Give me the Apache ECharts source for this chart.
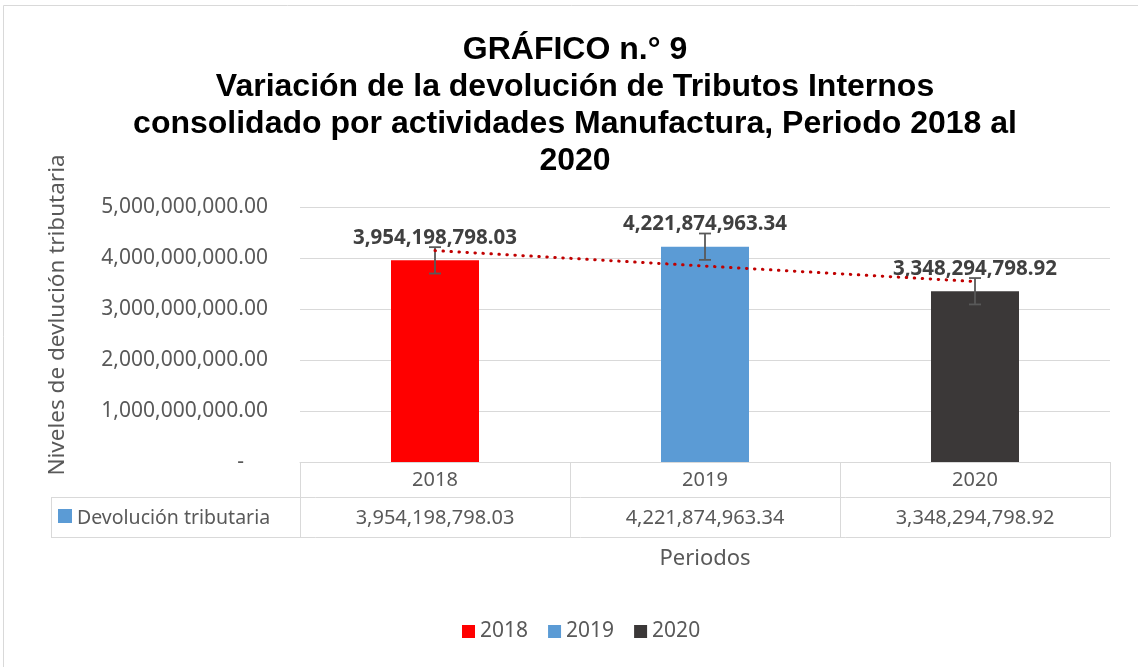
<!DOCTYPE html>
<html>
<head>
<meta charset="utf-8">
<script src="https://cdn.jsdelivr.net/npm/echarts@6/dist/echarts.min.js"></script>
<style>
html,body{margin:0;padding:0;background:#fff}
#chart{width:1138px;height:667px}
</style>
</head>
<body>
<div id="chart"></div>
<script>
// datos del gráfico
var categorias = ['2018', '2019', '2020'];
var devolucion = [3954198798.03, 4221874963.34, 3348294798.92];
var errorEstandar = [258500000, 258500000, 258500000];
var tendencia = [4145000000, 3842000000, 3539000000];
var colores = ['#FF0000', '#5B9BD5', '#3B3838'];
var nombreSerie = 'Devolución tributaria';

var fuente = '"Noto Sans", sans-serif';
var gris = '#595959';
var linea = '#d9d9d9';

function fmt(v) {
	return Number(v).toLocaleString('en-US', {minimumFractionDigits: 2, maximumFractionDigits: 2});
}

var myChart = echarts.init(document.getElementById('chart'));

var series = [];
categorias.forEach(function(c, i) {
	series.push({
		name: c,
		type: 'bar',
		barWidth: 88,
		barGap: '-100%',
		data: categorias.map(function(cc, j) { return j === i ? devolucion[j] : '-'; }),
		itemStyle: {color: colores[i]},
		label: {
			show: true,
			position: 'top',
			distance: 12,
			formatter: function(p) { return fmt(p.value); },
			fontFamily: fuente,
			fontSize: 20.5,
			fontWeight: 'bold',
			color: '#404040'
		},
		z: 2
	});
});

// barras de error
series.push({
	type: 'custom',
	data: categorias.map(function(c, i) { return [i, devolucion[i], errorEstandar[i]]; }),
	encode: {x: 0, y: 1},
	z: 5,
	renderItem: function(params, api) {
		var hi = api.coord([api.value(0), api.value(1) + api.value(2)]);
		var lo = api.coord([api.value(0), api.value(1) - api.value(2)]);
		var w = 6;
		var st = {stroke: gris, lineWidth: 1.8};
		return {
			type: 'group',
			children: [
				{type: 'line', shape: {x1: hi[0], y1: hi[1], x2: lo[0], y2: lo[1]}, style: st},
				{type: 'line', shape: {x1: hi[0] - w, y1: hi[1], x2: hi[0] + w, y2: hi[1]}, style: st},
				{type: 'line', shape: {x1: lo[0] - w, y1: lo[1], x2: lo[0] + w, y2: lo[1]}, style: st}
			]
		};
	}
});

// línea de tendencia
series.push({
	type: 'line',
	data: tendencia,
	symbol: 'none',
	z: 6,
	lineStyle: {color: '#C00000', width: 3, type: [0.5, 7.5], cap: 'round'}
});

var option = {
	animation: false,
	textStyle: {fontFamily: fuente},
	title: {
		text: 'GRÁFICO n.° 9\nVariación de la devolución de Tributos Internos\nconsolidado por actividades Manufactura, Periodo 2018 al\n2020',
		left: 570,
		textAlign: 'center',
		top: 27,
		textStyle: {
			fontFamily: '"Liberation Sans", Arial, sans-serif',
			fontSize: 32,
			fontWeight: 'bold',
			color: '#000',
			lineHeight: 37
		}
	},
	legend: {
		data: categorias,
		top: 616,
		left: 457,
		icon: 'rect',
		itemWidth: 13,
		itemHeight: 13,
		itemGap: 20,
		textStyle: {fontFamily: fuente, fontSize: 21, color: gris}
	},
	grid: {left: 300, right: 28, top: 207, bottom: 205},
	xAxis: {
		type: 'category',
		data: categorias,
		name: 'Periodos',
		nameLocation: 'middle',
		nameGap: 86,
		nameTextStyle: {fontFamily: fuente, fontSize: 22, color: gris},
		axisLine: {lineStyle: {color: linea, width: 1}},
		axisTick: {show: false},
		axisLabel: {show: false}
	},
	yAxis: {
		type: 'value',
		min: 0,
		max: 5000000000,
		interval: 1000000000,
		axisLine: {show: false},
		axisTick: {show: false},
		splitLine: {lineStyle: {color: linea, width: 1}},
		axisLabel: {
			margin: 32,
			fontFamily: fuente,
			fontSize: 21,
			color: gris,
			formatter: function(v) { return v === 0 ? '{d|-}' : fmt(v); },
			rich: {d: {fontFamily: fuente, fontSize: 21, color: gris, padding: [0, 24, 0, 0]}}
		}
	},
	series: series
};
myChart.setOption(option);

// tabla de datos debajo del eje
var xLeft = 300, xRight = 1110, yTop = 462, yMid = 497, yBot = 537, xLeyenda = 51;
var cellW = (xRight - xLeft) / categorias.length;
var g = [];
var lst = {stroke: linea, lineWidth: 1};
g.push({type: 'rect', shape: {x: 3.5, y: 5.5, width: 1140, height: 670}, style: {stroke: linea, fill: null, lineWidth: 1}, silent: true});
g.push({type: 'line', shape: {x1: xLeyenda, y1: yMid + 0.5, x2: xRight, y2: yMid + 0.5}, style: lst});
g.push({type: 'line', shape: {x1: xLeyenda, y1: yBot + 0.5, x2: xRight, y2: yBot + 0.5}, style: lst});
g.push({type: 'line', shape: {x1: xLeyenda + 0.5, y1: yMid, x2: xLeyenda + 0.5, y2: yBot}, style: lst});
for (var k = 0; k <= categorias.length; k++) {
	var xx = Math.round(xLeft + k * cellW) + 0.5;
	g.push({type: 'line', shape: {x1: xx, y1: yTop, x2: xx, y2: yBot}, style: lst});
}
categorias.forEach(function(c, i) {
	var cx = myChart.convertToPixel({xAxisIndex: 0}, c);
	g.push({type: 'text', x: cx, y: (yTop + yMid) / 2 + 1, style: {text: c, align: 'center', verticalAlign: 'middle', fontFamily: fuente, fontSize: 20, fill: gris}});
	g.push({type: 'text', x: cx, y: (yMid + yBot) / 2 + 1, style: {text: fmt(devolucion[i]), align: 'center', verticalAlign: 'middle', fontFamily: fuente, fontSize: 20, fill: gris}});
});
g.push({type: 'rect', shape: {x: 58, y: 509, width: 14, height: 14}, style: {fill: '#5B9BD5'}});
g.push({type: 'text', x: 77, y: (yMid + yBot) / 2 + 1, style: {text: nombreSerie, align: 'left', verticalAlign: 'middle', fontFamily: fuente, fontSize: 19.5, fill: gris}});
// título del eje vertical
g.push({type: 'text', x: 58, y: 315, rotation: Math.PI / 2, style: {text: 'Niveles de devlución tributaria', align: 'center', verticalAlign: 'middle', fontFamily: fuente, fontSize: 22.5, fill: gris}});
myChart.setOption({graphic: g});
</script>
</body>
</html>
